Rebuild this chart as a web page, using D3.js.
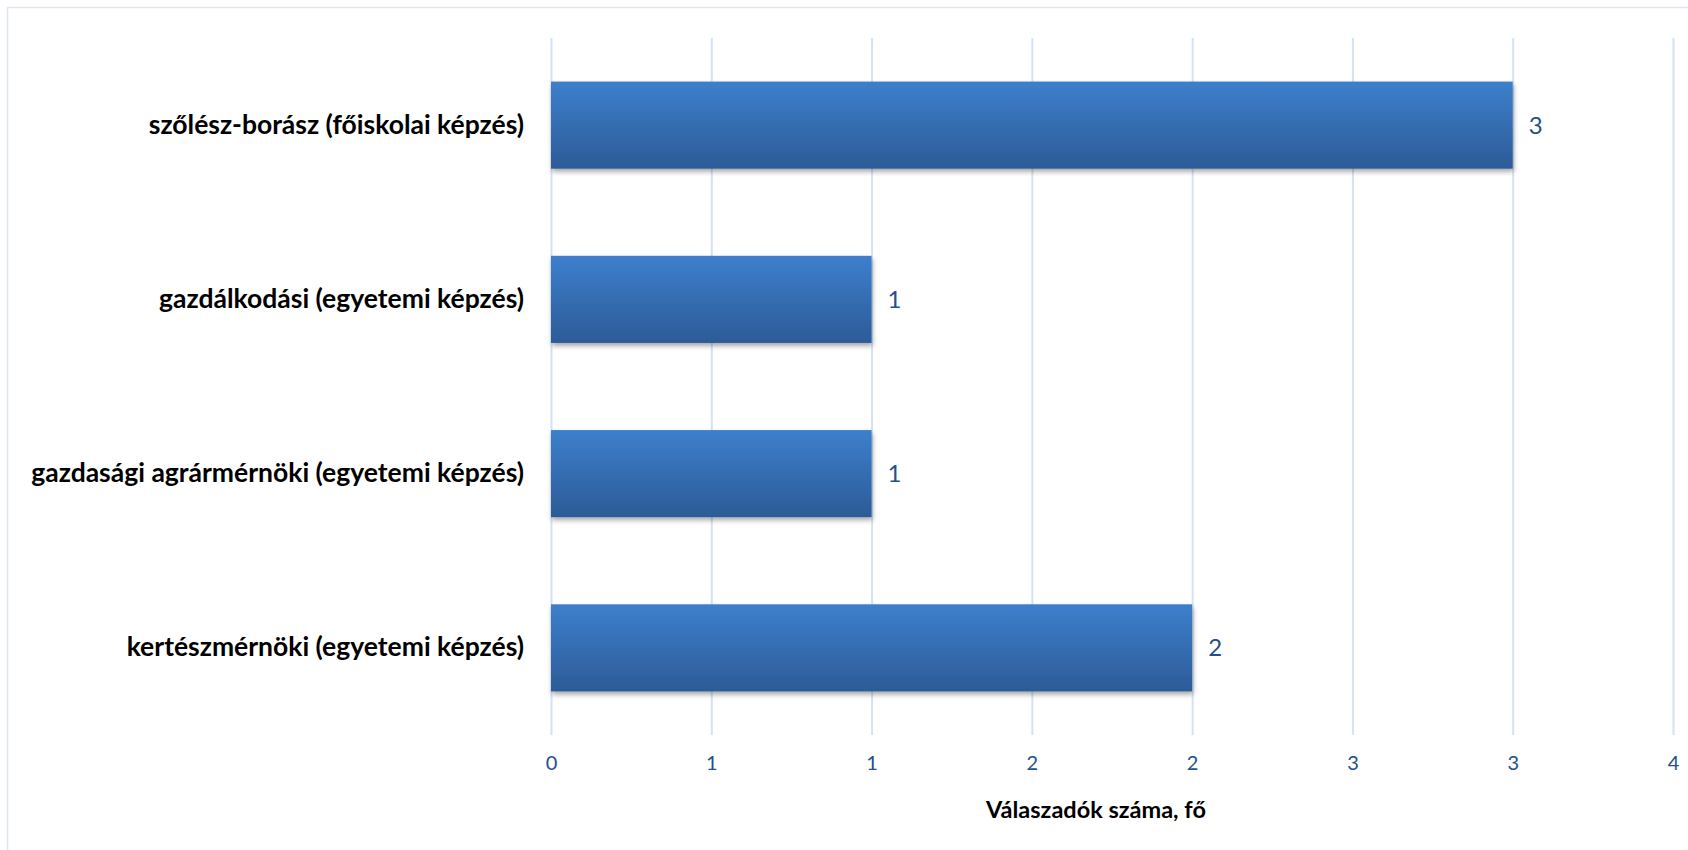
<!DOCTYPE html>
<html>
<head>
<meta charset="utf-8">
<script src="https://cdn.jsdelivr.net/npm/d3@7"></script>
<style>
  body { margin: 0; background: #fff; }
  svg { display: block; }
</style>
</head>
<body>
<div id="chart"></div>
<script>
// categories top to bottom
const categories = [
  'szőlész-borász (főiskolai képzés)',
  'gazdálkodási (egyetemi képzés)',
  'gazdasági agrármérnöki (egyetemi képzés)',
  'kertészmérnöki (egyetemi képzés)'
];
const values = [3, 1, 1, 2];
const tickValues = [0, 0.5, 1, 1.5, 2, 2.5, 3, 3.5];
const axisTitle = 'Válaszadók száma, fő';

const fullWidth = 1688;
const fullHeight = 850;
const margin = {top: 38, right: 15, bottom: 115, left: 551};
const width = fullWidth - margin.left - margin.right;
const height = fullHeight - margin.top - margin.bottom;

const blue = '#23508a';

const svg = d3.select('#chart').append('svg')
  .attr('width', fullWidth)
  .attr('height', fullHeight);

// chart frame
svg.append('rect')
  .attr('x', 7.5).attr('y', 7.5)
  .attr('width', 1720).attr('height', 900)
  .attr('fill', 'none')
  .attr('stroke', '#dde5ef')
  .attr('stroke-width', 1.5);

const defs = svg.append('defs');
const grad = defs.append('linearGradient')
  .attr('id', 'barGrad')
  .attr('x1', 0).attr('y1', 0).attr('x2', 0).attr('y2', 1);
grad.append('stop').attr('offset', '0%').attr('stop-color', '#3d7fcd');
grad.append('stop').attr('offset', '100%').attr('stop-color', '#2c5b96');

const shadow = defs.append('filter')
  .attr('id', 'shadow')
  .attr('x', '-5%').attr('y', '-20%').attr('width', '110%').attr('height', '150%');
shadow.append('feDropShadow')
  .attr('dx', 1).attr('dy', 3)
  .attr('stdDeviation', 2.5)
  .attr('flood-color', '#000')
  .attr('flood-opacity', 0.35);

const g = svg.append('g')
  .attr('transform', `translate(${margin.left},${margin.top})`);

const xScale = d3.scaleLinear()
  .domain([0, 3.5])
  .range([0, width]);

const yScale = d3.scaleBand()
  .domain(categories)
  .range([0, height])
  .paddingInner(0.5)
  .paddingOuter(0.25);

// grid
const xGrid = d3.axisBottom(xScale)
  .tickValues(tickValues)
  .tickSize(-height)
  .tickFormat('');
g.append('g')
  .attr('class', 'grid x')
  .attr('transform', `translate(0,${height})`)
  .call(xGrid)
  .call(s => s.select('.domain').remove())
  .call(s => s.selectAll('line').attr('stroke', '#d5e2f3').attr('stroke-width', 2));

// x axis labels (Excel-style rounding of half steps)
const xAxis = d3.axisBottom(xScale)
  .tickValues(tickValues)
  .tickSize(0)
  .tickPadding(21)
  .tickFormat(d => d3.format('.0f')(Math.round(d)));
g.append('g')
  .attr('class', 'axis x')
  .attr('transform', `translate(0,${height})`)
  .call(xAxis)
  .call(s => s.select('.domain').remove())
  .call(s => s.selectAll('text')
    .attr('fill', blue)
    .style('font-family', 'Lato, "Open Sans", sans-serif')
    .style('font-size', '20px'));

// category labels
const yAxis = d3.axisLeft(yScale)
  .tickSize(0)
  .tickPadding(27);
g.append('g')
  .attr('class', 'axis y')
  .call(yAxis)
  .call(s => s.select('.domain').remove())
  .call(s => s.selectAll('text')
    .attr('fill', '#000')
    .style('font-family', 'Lato, "Open Sans", sans-serif')
    .style('font-weight', 'bold')
    .style('font-size', '26.5px'));

// bars
g.append('g').attr('class', 'data-area')
  .selectAll('rect')
  .data(values)
  .join('rect')
  .attr('x', xScale(0))
  .attr('y', (d, i) => yScale(categories[i]))
  .attr('width', d => xScale(d) - xScale(0))
  .attr('height', yScale.bandwidth())
  .attr('fill', 'url(#barGrad)')
  .attr('filter', 'url(#shadow)');

// data labels
g.append('g').attr('class', 'labels')
  .selectAll('text')
  .data(values)
  .join('text')
  .attr('x', d => xScale(d) + 16)
  .attr('y', (d, i) => yScale(categories[i]) + yScale.bandwidth() / 2)
  .attr('dy', '0.35em')
  .attr('fill', blue)
  .style('font-family', 'Lato, "Open Sans", sans-serif')
  .style('font-size', '24px')
  .text(d => d);

// axis title
svg.append('text')
  .attr('x', 1096)
  .attr('y', 810)
  .attr('dy', '0.35em')
  .attr('text-anchor', 'middle')
  .attr('fill', '#000')
  .style('font-family', 'Lato, "Open Sans", sans-serif')
  .style('font-weight', 'bold')
  .style('font-size', '23.5px')
  .text(axisTitle);
</script>
</body>
</html>
